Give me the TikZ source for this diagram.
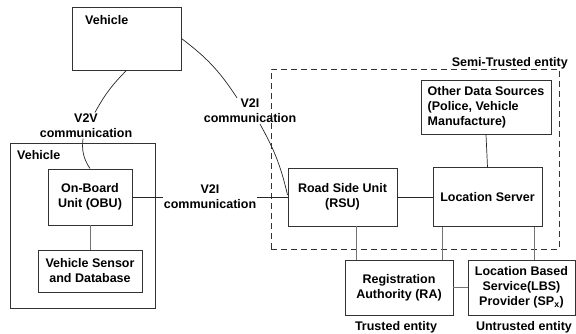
\documentclass[tikz,border=0pt]{standalone}
\usepackage{fontspec}
\setmainfont{Liberation Sans}
\usetikzlibrary{calc}

\begin{document}
\begin{tikzpicture}[%
    x=1pt, y=1pt,
    font=\fontsize{12.5}{15}\selectfont\bfseries,
    box/.style={draw=black!80, line width=0.9pt, align=center, inner sep=3pt},
    link/.style={draw=black!55, line width=1pt},
    wave/.style={draw=black!85, line width=0.7pt},
    lbl/.style={align=center, inner sep=1pt}
  ]
  \useasboundingbox (0,0) rectangle (576,334);

  % semi-trusted region
  \draw[dash pattern=on 6pt off 4pt, draw=black!80, line width=0.9pt]
    (271,85) rectangle (559,265);
  \node[anchor=base east, inner sep=0pt] (semi) at (568,267.5) {Semi-Trusted entity};

  % vehicles
  \node[box, minimum width=109, minimum height=63] (vehA) at (126.5,295.5) {};
  \node[anchor=west, inner sep=0pt] (vehAname) at (85,314) {Vehicle};
  \node[box, minimum width=145, minimum height=165] (vehB) at (82.5,108.5) {};
  \node[anchor=west, inner sep=0pt] (vehBname) at (17,179) {Vehicle};
  \node[box, minimum width=84, minimum height=56] (obu) at (90,137) {On-Board\\Unit (OBU)};
  \node[box, minimum width=104, minimum height=42] (sensor) at (90,63) {Vehicle Sensor\\and Database};

  % infrastructure
  \node[box, minimum width=109, minimum height=58] (rsu) at (342.5,137) {Road Side Unit\\(RSU)};
  \node[box, minimum width=109, minimum height=59] (ls) at (487.5,137) {Location Server};
  \node[box, minimum width=130, minimum height=54, align=left] (ods) at (486,227)
    {Other Data Sources\\(Police, Vehicle\\Manufacture)};
  \node[box, minimum width=108, minimum height=55] (ra) at (399,46.5) {Registration\\Authority (RA)};
  \node[box, minimum width=107, minimum height=55] (lbs) at (521.5,46.5)
    {Location Based\\Service(LBS)\\Provider (SP\textsubscript{x})};
  \node (trusted) at (396,7) {Trusted entity};
  \node (untrusted) at (524,7) {Untrusted entity};

  % communication labels
  \node[lbl] (v2v) at (86,208.5) {V2V\\communication};
  \node[lbl] (v2iA) at (250,223) {V2I\\communication};
  \node[lbl] (v2iB) at (210,137) {V2I\\communication};

  \draw[wave] (vehA.south) to[bend right=8] ([xshift=9pt]v2v.north);
  \draw[wave] ([xshift=-3pt]v2v.south) to[bend right=20] (obu.north);
  \draw[wave] (vehA.east) to[bend left=10] ([xshift=-13pt]v2iA.north);
  \draw[wave] ([xshift=10pt]v2iA.south) to[bend left=8] ([yshift=2pt]rsu.west);
  \path[wave] (obu.east) edge (v2iB.west)
              (v2iB.east) edge (rsu.west)
              (rsu.east) edge (ls.west)
              (ods.south) edge (ls.north);

  \path[link] (obu) edge (sensor)
              ([xshift=13.5pt]rsu.south) edge ([xshift=13.5pt]rsu.south |- ra.north)
              ([xshift=-45.5pt]ls.south) edge ([xshift=-45.5pt]ls.south |- ra.north)
              ([xshift=46.5pt]ls.south) edge ([xshift=46.5pt]ls.south |- lbs.north)
              (ra) edge (lbs);
\end{tikzpicture}
\end{document}
